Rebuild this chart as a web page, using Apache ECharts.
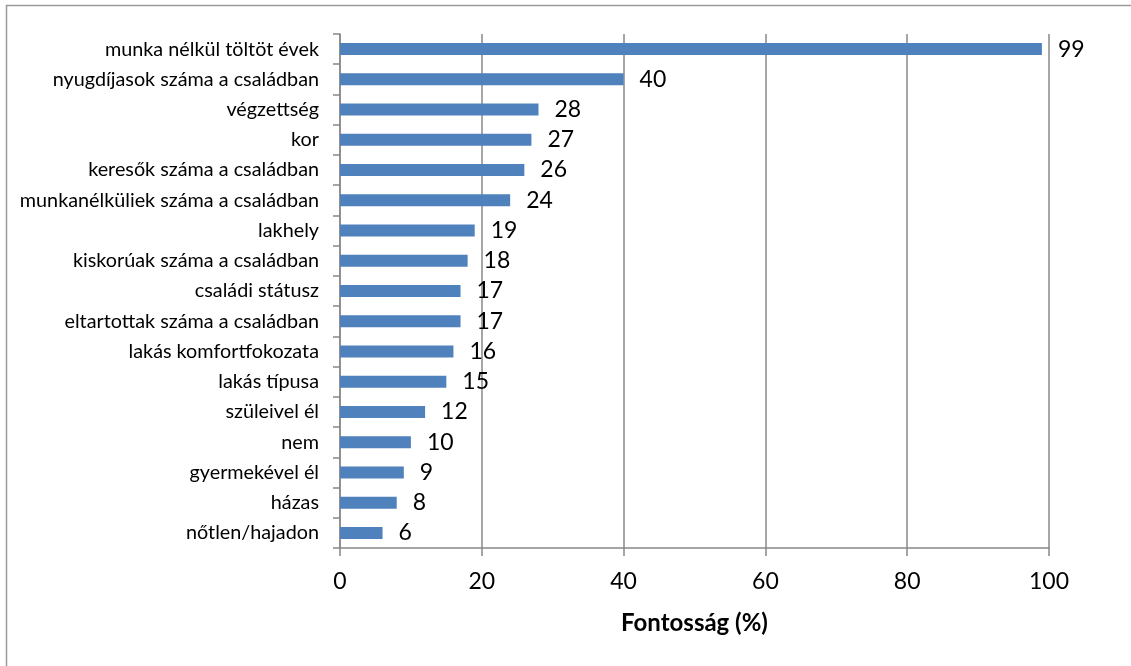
<!DOCTYPE html>
<html>
<head>
<meta charset="utf-8">
<script src="https://cdn.jsdelivr.net/npm/echarts@6/dist/echarts.min.js"></script>
<style>
  html, body { margin: 0; padding: 0; background: #fff; }
  #chart { width: 1131px; height: 666px; }
</style>
</head>
<body>
<div id="chart"></div>
<script>
// Factors and their importance (%)
const categories = [
  'munka nélkül töltöt évek',
  'nyugdíjasok száma a családban',
  'végzettség',
  'kor',
  'keresők száma a családban',
  'munkanélküliek száma a családban',
  'lakhely',
  'kiskorúak száma a családban',
  'családi státusz',
  'eltartottak száma a családban',
  'lakás komfortfokozata',
  'lakás típusa',
  'szüleivel él',
  'nem',
  'gyermekével él',
  'házas',
  'nőtlen/hajadon'
];
const importance = [99, 40, 28, 27, 26, 24, 19, 18, 17, 17, 16, 15, 12, 10, 9, 8, 6];
const axisTitle = 'Fontosság (%)';

const FONT = 'Lato, "Open Sans", sans-serif';
const GREY = '#888888';

const chart = echarts.init(document.getElementById('chart'), null, { renderer: 'canvas' });
chart.setOption({
  animation: false,
  backgroundColor: '#fff',
  graphic: [{
    type: 'rect',
    shape: { x: 6.5, y: 5.5, width: 1300, height: 800 },
    style: { fill: 'none', stroke: '#9a9a9a', lineWidth: 1.5 },
    silent: true
  }],
  grid: { left: 340, right: 82, top: 34, bottom: 118, containLabel: false },
  xAxis: {
    type: 'value',
    min: 0, max: 100, interval: 20,
    name: axisTitle,
    nameLocation: 'middle',
    nameGap: 63,
    nameTextStyle: { fontFamily: FONT, fontSize: 24, fontWeight: 'bold', color: '#000' },
    axisLine: { show: true, lineStyle: { color: GREY, width: 1.5 } },
    axisTick: { show: true, length: 8, lineStyle: { color: GREY, width: 1.5 } },
    axisLabel: { fontFamily: FONT, fontSize: 23, color: '#000', margin: 22 },
    splitLine: { show: true, lineStyle: { color: GREY, width: 1.5 } }
  },
  yAxis: {
    type: 'category',
    data: categories,
    inverse: true,
    axisLine: { show: true, lineStyle: { color: GREY, width: 1.5 } },
    axisTick: { show: true, length: 7, lineStyle: { color: GREY, width: 1.5 } },
    axisLabel: { fontFamily: FONT, fontSize: 19.8, color: '#000', margin: 21 },
    splitLine: { show: false }
  },
  series: [{
    type: 'bar',
    data: importance,
    barWidth: 12,
    itemStyle: { color: '#4f81bd' },
    label: {
      show: true,
      position: 'right',
      distance: 16,
      fontFamily: FONT,
      fontSize: 23,
      color: '#000'
    }
  }]
});
</script>
</body>
</html>
